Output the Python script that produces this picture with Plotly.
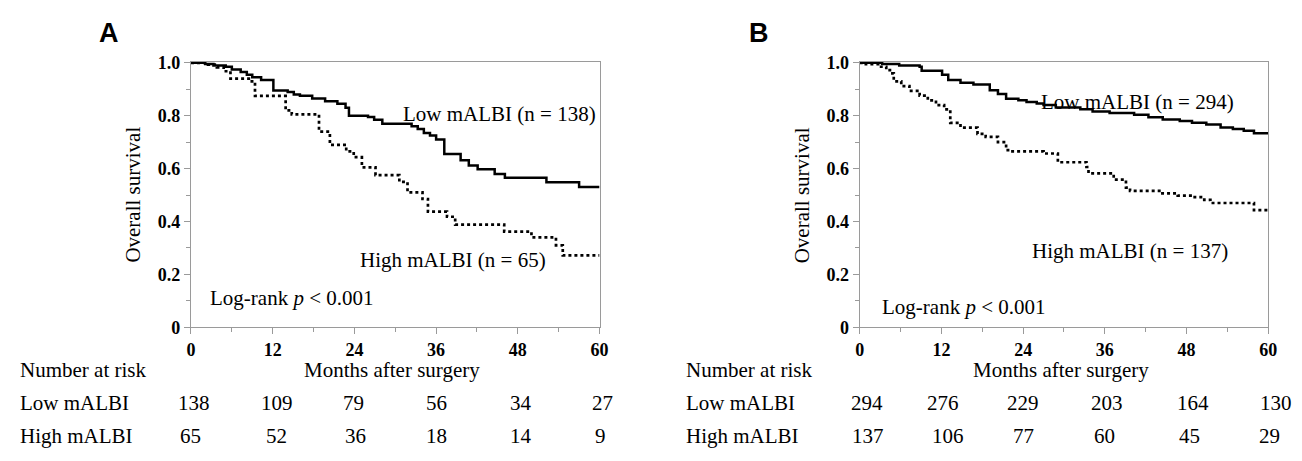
import plotly.graph_objects as go

# ---------------- data ----------------
# Panel A
a_low_t = [0, 2.1, 3.3, 5.1, 6.0, 7.3, 8.2, 9.0, 10.3, 12.1, 14.2, 15.1, 16.0, 17.8, 19.7, 21.5, 22.7, 23.2,
           26.0, 26.9, 28.1, 32.4, 33.3, 34.2, 35.1, 36.0, 37.2, 39.6, 40.8, 42.1, 44.6, 46.1, 52.2, 57.0, 60]
a_low_s = [1.0, 0.995, 0.99, 0.985, 0.975, 0.965, 0.955, 0.945, 0.935, 0.895, 0.89, 0.88, 0.875, 0.865, 0.855, 0.845, 0.83, 0.80,
           0.795, 0.785, 0.77, 0.76, 0.75, 0.735, 0.725, 0.71, 0.655, 0.632, 0.612, 0.598, 0.58, 0.565, 0.548, 0.53, 0.53]
a_high_t = [0, 2.5, 3.8, 4.8, 5.8, 8.5, 9.4, 13.9, 14.8, 18.8, 20.4, 22.8, 23.9, 25.1, 27.1, 30.6, 31.8, 34.0, 34.8,
            37.6, 38.8, 46.0, 50.0, 53.6, 54.6, 60]
a_high_s = [1.0, 0.993, 0.983, 0.968, 0.94, 0.93, 0.875, 0.82, 0.805, 0.74, 0.69, 0.665, 0.643, 0.605, 0.575, 0.55, 0.51, 0.485, 0.437,
            0.418, 0.388, 0.362, 0.34, 0.31, 0.272, 0.272]
# Panel B
b_low_t = [0, 3.3, 5.8, 8.8, 9.1, 12.1, 13.0, 14.8, 16.7, 19.1, 20.3, 21.5, 23.3, 24.5, 26.0, 27.0, 28.8, 32.4, 34.2,
           36.7, 40.3, 42.4, 44.5, 47.0, 48.8, 50.9, 53.0, 54.8, 56.4, 57.9, 60]
b_low_s = [1.0, 0.995, 0.99, 0.985, 0.97, 0.955, 0.935, 0.925, 0.918, 0.896, 0.882, 0.864, 0.858, 0.852, 0.846, 0.84, 0.831, 0.824, 0.816,
           0.81, 0.804, 0.794, 0.786, 0.78, 0.773, 0.767, 0.755, 0.75, 0.743, 0.734, 0.734]
b_high_t = [0, 0.9, 2.7, 3.9, 4.8, 5.0, 6.1, 7.3, 8.8, 10.0, 11.2, 12.4, 13.3, 14.8, 17.3, 18.5, 20.3, 21.5, 22.1, 27.0,
            29.1, 33.3, 33.6, 37.3, 39.1, 39.7, 44.2, 46.7, 48.8, 50.6, 51.5, 57.9, 60]
b_high_s = [1.0, 0.995, 0.985, 0.972, 0.96, 0.93, 0.912, 0.894, 0.876, 0.858, 0.84, 0.824, 0.773, 0.755, 0.731, 0.72, 0.70, 0.67, 0.665, 0.657,
            0.624, 0.606, 0.582, 0.558, 0.528, 0.516, 0.506, 0.498, 0.492, 0.482, 0.47, 0.443, 0.443]

risk_times = [0, 12, 24, 36, 48, 60]
a_risk_low = [138, 109, 79, 56, 34, 27]
a_risk_high = [65, 52, 36, 18, 14, 9]
b_risk_low = [294, 276, 229, 203, 164, 130]
b_risk_high = [137, 106, 77, 60, 45, 29]

x_ticks = [0, 12, 24, 36, 48, 60]
y_ticks = [0, 0.2, 0.4, 0.6, 0.8, 1.0]
y_ticktext = ["0", "0.2", "0.4", "0.6", "0.8", "1.0"]

# ---------------- layout tweaks (text nudges, in months) ----------------
a_low_nudge = [0.5, 0.6, -0.1, 0.0, 0.4, 0.4]
a_high_nudge = [-0.1, 0.6, 0.1, 0.1, 0.4, 0.2]
b_low_nudge = [1.0, 0.2, 0.0, 0.3, 0.9, 1.2]
b_high_nudge = [1.2, 0.9, 0.0, 0.0, 0.4, 0.2]

# ---------------- figure ----------------
W, H = 1302, 461
SERIF = "Liberation Serif"
fig = go.Figure()


def px(x):
    return x / W


def py(y):
    return 1 - y / H


panels = [
    dict(xa="x", ya="y", low=(a_low_t, a_low_s), high=(a_high_t, a_high_s), dom=(188, 601)),
    dict(xa="x2", ya="y2", low=(b_low_t, b_low_s), high=(b_high_t, b_high_s), dom=(864, 1277)),
]
for p in panels:
    fig.add_trace(go.Scatter(x=p["low"][0], y=p["low"][1], mode="lines",
                             line=dict(shape="hv", color="black", width=2.5),
                             xaxis=p["xa"], yaxis=p["ya"], showlegend=False, hoverinfo="skip"))
    fig.add_trace(go.Scatter(x=p["high"][0], y=p["high"][1], mode="lines",
                             line=dict(shape="hv", color="black", width=2.7, dash="dot"),
                             xaxis=p["xa"], yaxis=p["ya"], showlegend=False, hoverinfo="skip"))

ydom = [py(332), py(55)]
axis_common = dict(showgrid=False, zeroline=False, showline=True, linecolor="#9a9a9a", linewidth=1.2, mirror=True,
                   ticks="outside", ticklen=6, tickcolor="#9a9a9a",
                   tickfont=dict(family=SERIF, size=18, color="black"))
for i, p in enumerate(panels):
    sfx = "" if i == 0 else str(i + 1)
    fig.layout["xaxis" + sfx] = dict(axis_common, domain=[px(p["dom"][0]), px(p["dom"][1])], range=[0, 60],
                                    tickvals=x_ticks, ticktext=[f"<b>{v}</b>" for v in x_ticks],
                                    minor=dict(dtick=6, tick0=0, ticks="outside", ticklen=4, tickcolor="#9a9a9a"),
                                    anchor="y" + sfx)
    fig.layout["yaxis" + sfx] = dict(axis_common, domain=ydom, range=[0, 1.004],
                                    tickvals=y_ticks, ticktext=[f"<b>{t}</b>" for t in y_ticktext],
                                    minor=dict(dtick=0.1, tick0=0, ticks="outside", ticklen=4, tickcolor="#9a9a9a"),
                                    anchor="x" + sfx)

ann = []
tf = dict(family=SERIF, size=21, color="black")


def pa(text, x, y, xanchor="center", font=tf, **kw):
    return dict(text=text, x=x, y=y, xref="paper", yref="paper", xanchor=xanchor, yanchor="middle",
                showarrow=False, font=font, **kw)


# panel letters
ann.append(pa("<b>A</b>", px(105), py(25), font=dict(family="Liberation Sans", size=27, color="black")))
ann.append(pa("<b>B</b>", px(762), py(25), font=dict(family="Liberation Sans", size=27, color="black")))
# y titles
for xp in (129, 806):
    ann.append(pa("Overall survival", px(xp), py(194), textangle=-90))
# curve labels
ann += [
    dict(text="Low mALBI (n = 138)", x=59.8, y=0.805, xref="x", yref="y", xanchor="right", showarrow=False, font=tf),
    dict(text="High mALBI (n = 65)", x=38.5, y=0.255, xref="x", yref="y", showarrow=False, font=tf),
    dict(text="Log-rank <i>p</i> < 0.001", x=2.5, y=0.112, xref="x", yref="y", xanchor="left", showarrow=False, font=tf),
    dict(text="Low mALBI (n = 294)", x=40.8, y=0.85, xref="x2", yref="y2", showarrow=False, font=tf),
    dict(text="High mALBI (n = 137)", x=39.7, y=0.29, xref="x2", yref="y2", showarrow=False, font=tf),
    dict(text="Log-rank <i>p</i> < 0.001", x=3.0, y=0.076, xref="x2", yref="y2", xanchor="left", showarrow=False, font=tf),
]
# risk tables
for p, left, low, high, nl, nh in ((panels[0], 13, a_risk_low, a_risk_high, a_low_nudge, a_high_nudge),
                                   (panels[1], 686, b_risk_low, b_risk_high, b_low_nudge, b_high_nudge)):
    d0, d1 = p["dom"]

    def tx(t, off=0.0):
        return px(d0 + (t + off) / 60.0 * (d1 - d0))

    ann.append(pa("Number at risk", px(left), py(377), xanchor="left"))
    ann.append(pa("Months after surgery", tx(29.5), py(377)))
    ann.append(pa("Low mALBI", px(left), py(411), xanchor="left"))
    ann.append(pa("High mALBI", px(left), py(445), xanchor="left"))
    for t, v, o in zip(risk_times, low, nl):
        ann.append(pa(str(v), tx(t, o), py(411)))
    for t, v, o in zip(risk_times, high, nh):
        ann.append(pa(str(v), tx(t, o), py(445)))

fig.update_layout(width=W, height=H, margin=dict(l=0, r=0, t=0, b=0), paper_bgcolor="white", plot_bgcolor="white",
                  annotations=ann)
fig.write_html("out.html", config={"displayModeBar": False},
               post_script="document.body.style.margin='0';document.body.style.padding='0';"
                           "document.body.style.overflow='hidden';")
